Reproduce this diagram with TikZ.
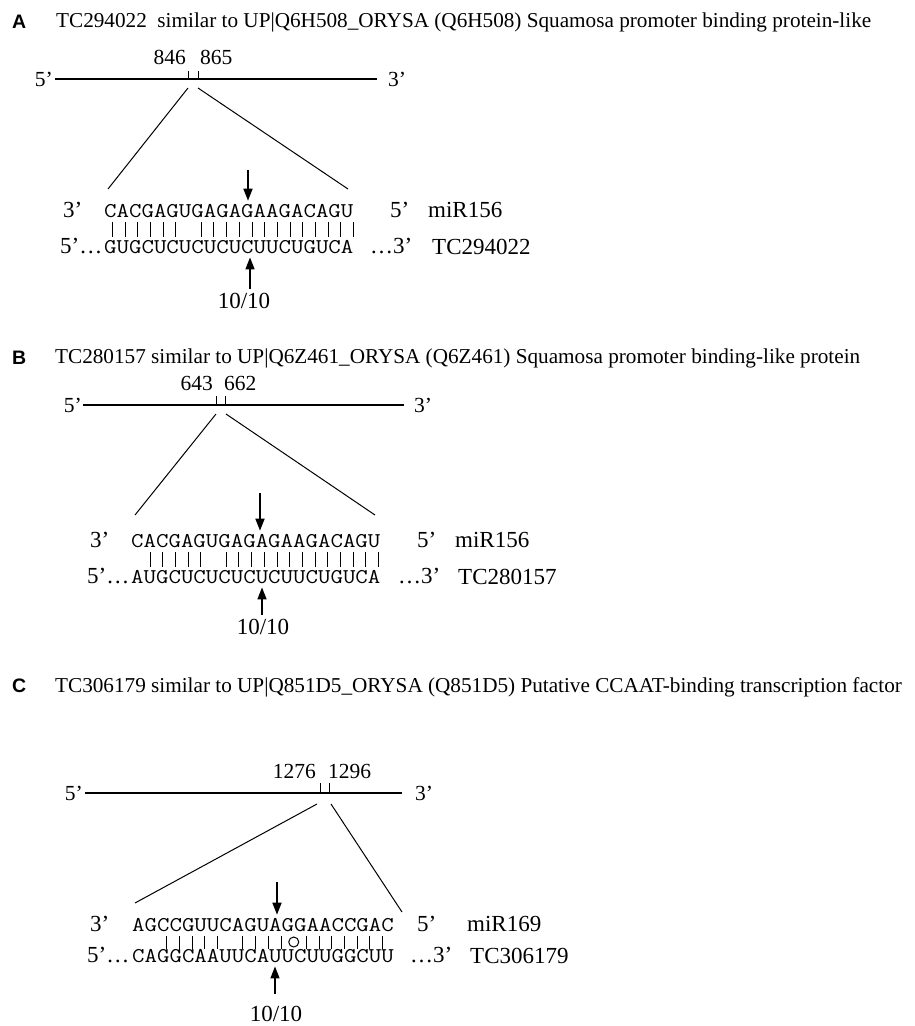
\documentclass[tikz,border=0pt]{standalone}
\usepackage{graphicx}
\usepackage{fontspec}
\setmainfont{Liberation Serif}
\newfontfamily\panelfont{Liberation Sans}
\newcommand\seqtext[1]{\scalebox{1.152}[1]{#1}}
\usetikzlibrary{arrows.meta}
\tikzset{
  lab/.style={inner sep=0pt, font=\fontsize{23}{23}\selectfont, anchor=base west},
  endlab/.style={inner sep=0pt, font=\fontsize{21.5}{21.5}\selectfont, anchor=base west},
  hdr/.style={inner sep=0pt, font=\fontsize{21.2}{21.2}\selectfont, anchor=base west},
  pnl/.style={inner sep=0pt, font=\panelfont\bfseries\fontsize{19.5}{19.5}\selectfont, anchor=base west},
  seq/.style={inner sep=0pt, font=\ttfamily\fontsize{21}{21}\selectfont, anchor=base west},
  num/.style={inner sep=0pt, font=\fontsize{21.5}{21.5}\selectfont},
  mainline/.style={line width=1.3pt},
  tickline/.style={line width=1pt},
  diag/.style={line width=1pt},
  pairline/.style={line width=1pt},
  cleave/.style={line width=1.6pt, -{Triangle[length=12pt,width=9pt]}},
  wobble/.style={draw, circle, minimum size=10pt, inner sep=0pt, line width=1pt},
}
\begin{document}
\begin{tikzpicture}[x=1pt,y=-1pt]
\fill[white] (0,0) rectangle (914,1026);
\useasboundingbox (0,0) rectangle (914,1026);

% ---------------- Panel A ----------------
\node[pnl] (pA) at (12,28) {A};
\node[hdr] (hA) at (56,27) {TC294022\ \ similar to UP|Q6H508\_ORYSA (Q6H508) Squamosa promoter binding protein-like};
\node[num, anchor=base east] (nA1) at (186,64) {846};
\node[num, anchor=base west] (nA2) at (200,64) {865};
\coordinate (LA1) at (55,79); \coordinate (LA2) at (377,79);
\draw[mainline] (LA1) -- (LA2);
\node[endlab, anchor=base east] (eA5) at (53,86) {5’};
\node[endlab] (eA3) at (388,86) {3’};
\coordinate (kA1) at (188,79); \coordinate (kA2) at (198,79);
\draw[tickline] (kA1) -- ++(0,-8);
\draw[tickline] (kA2) -- ++(0,-8);
\coordinate (dA1) at (188,88); \coordinate (dA2) at (198,88);
\coordinate (gA1) at (108,189); \coordinate (gA2) at (348,189);
\draw[diag] (dA1) -- (gA1);
\draw[diag] (dA2) -- (gA2);
\node[lab] (A3m) at (63,217) {3’};
\node[seq] (mA) at (104,217) {\seqtext{CACGAGUGAGAGAAGACAGU}};
\node[lab] (A5m) at (390,217) {5’};
\node[lab] (AmiR) at (428,217) {miR156};
\node[lab] (A5t) at (60,253) {5’…};
\node[seq] (tA) at (104,253) {\seqtext{GUGCUCUCUCUCUUCUGUCA}};
\node[lab] (A3t) at (370,253) {…3’};
\node[lab] (Atc) at (432,254) {TC294022};
\foreach \k in {1,2,3,4,5,6,8,9,10,11,12,13,14,15,16,17,18,19,20}
  \draw[pairline] ({104+(\k-0.5)*12.7+2},222) -- ({104+(\k-0.5)*12.7+2},237);
\coordinate (aA1) at (248,170);
\draw[cleave, shorten >=3pt] (aA1) -- (aA1 |- mA.north);
\node[lab, anchor=base] (rA) at (244,308) {10/10};
\coordinate (aA2) at (250,289);
\draw[cleave, shorten >=4pt] (aA2) -- (aA2 |- tA.south);

% ---------------- Panel B ----------------
\node[pnl] (pB) at (12,364) {B};
\node[hdr] (hB) at (55,363) {TC280157 similar to UP|Q6Z461\_ORYSA (Q6Z461) Squamosa promoter binding-like protein};
\node[num, anchor=base east] (nB1) at (213,390) {643};
\node[num, anchor=base west] (nB2) at (224,390) {662};
\coordinate (LB1) at (83,405); \coordinate (LB2) at (404,405);
\draw[mainline] (LB1) -- (LB2);
\node[endlab, anchor=base east] (eB5) at (82,412) {5’};
\node[endlab] (eB3) at (414,412) {3’};
\coordinate (kB1) at (216,405); \coordinate (kB2) at (225,405);
\draw[tickline] (kB1) -- ++(0,-9);
\draw[tickline] (kB2) -- ++(0,-9);
\coordinate (dB1) at (216,414); \coordinate (dB2) at (226,414);
\coordinate (gB1) at (135,515); \coordinate (gB2) at (375,515);
\draw[diag] (dB1) -- (gB1);
\draw[diag] (dB2) -- (gB2);
\node[lab] (B3m) at (90,547) {3’};
\node[seq] (mB) at (131,547) {\seqtext{CACGAGUGAGAGAAGACAGU}};
\node[lab] (B5m) at (417,547) {5’};
\node[lab] (BmiR) at (455,547) {miR156};
\node[lab] (B5t) at (87,583) {5’…};
\node[seq] (tB) at (131,583) {\seqtext{AUGCUCUCUCUCUUCUGUCA}};
\node[lab] (B3t) at (398,583) {…3’};
\node[lab] (Btc) at (458,584) {TC280157};
\foreach \k in {2,3,4,5,6,8,9,10,11,12,13,14,15,16,17,18,19,20}
  \draw[pairline] ({131+(\k-0.5)*12.7},552) -- ({131+(\k-0.5)*12.7},567);
\coordinate (aB1) at (260,493);
\draw[cleave, shorten >=3pt] (aB1) -- (aB1 |- mB.north);
\node[lab, anchor=base] (rB) at (263,634) {10/10};
\coordinate (aB2) at (262,615);
\draw[cleave, shorten >=4pt] (aB2) -- (aB2 |- tB.south);

% ---------------- Panel C ----------------
\node[pnl] (pC) at (12,692) {C};
\node[hdr] (hC) at (55,692) {TC306179 similar to UP|Q851D5\_ORYSA (Q851D5) Putative CCAAT-binding transcription factor};
\node[num, anchor=base east] (nC1) at (316,778) {1276};
\node[num, anchor=base west] (nC2) at (328,778) {1296};
\coordinate (LC1) at (85,793); \coordinate (LC2) at (402,793);
\draw[mainline] (LC1) -- (LC2);
\node[endlab, anchor=base east] (eC5) at (83,800) {5’};
\node[endlab] (eC3) at (415,800) {3’};
\coordinate (kC1) at (320,793); \coordinate (kC2) at (329,793);
\draw[tickline] (kC1) -- ++(0,-10);
\draw[tickline] (kC2) -- ++(0,-10);
\coordinate (dC1) at (317,804); \coordinate (dC2) at (331,804);
\coordinate (gC1) at (135,903); \coordinate (gC2) at (402,912);
\draw[diag] (dC1) -- (gC1);
\draw[diag] (dC2) -- (gC2);
\node[lab] (C3m) at (90,931) {3’};
\node[seq] (mC) at (132,931) {\seqtext{AGCCGUUCAGUAGGAACCGAC}};
\node[lab] (C5m) at (417,931) {5’};
\node[lab] (CmiR) at (467,931) {miR169};
\node[lab] (C5t) at (87,962) {5’…};
\node[seq] (tC) at (132,962) {\seqtext{CAGGCAAUUCAUUCUUGGCUU}};
\node[lab] (C3t) at (410,962) {…3’};
\node[lab] (Ctc) at (470,963) {TC306179};
\foreach \k in {3,4,5,6,7,9,10,11,12,14,15,16,17,18,19,20}
  \draw[pairline] ({132+(\k-0.5)*12.7+3},936) -- ({132+(\k-0.5)*12.7+3},949);
\node[wobble] (wC) at ({132+12.5*12.7+3},942) {};
\coordinate (aC1) at (277,882);
\draw[cleave, shorten >=3pt] (aC1) -- (aC1 |- mC.north);
\node[lab, anchor=base] (rC) at (276,1021) {10/10};
\coordinate (aC2) at (275,994);
\draw[cleave, shorten >=4pt] (aC2) -- (aC2 |- tC.south);
\end{tikzpicture}
\end{document}
